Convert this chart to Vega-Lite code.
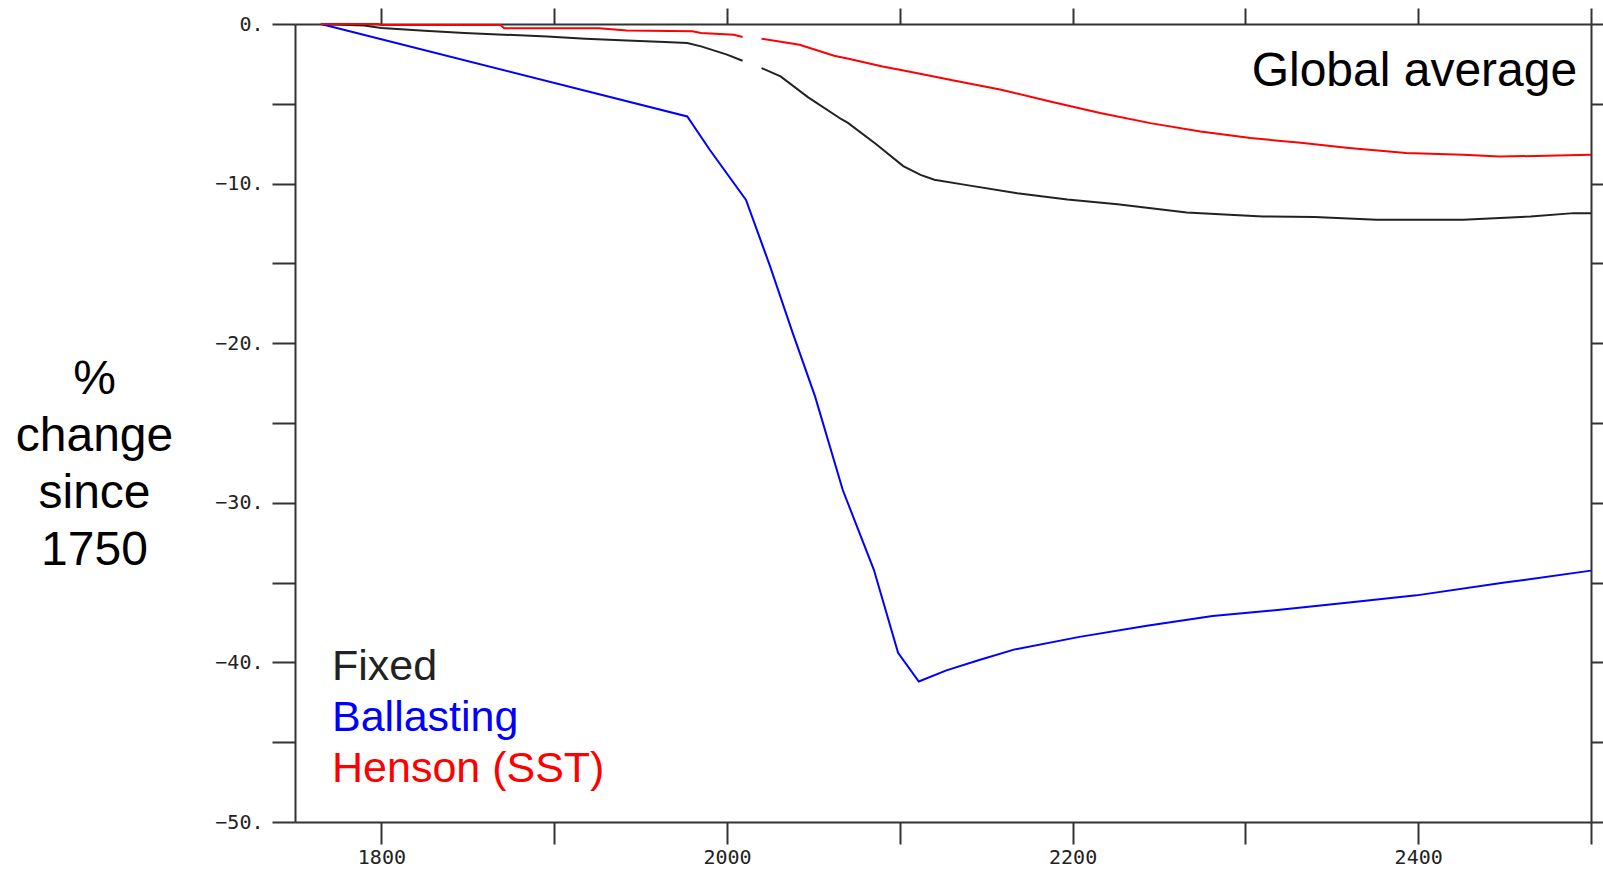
{
  "$schema": "https://vega.github.io/schema/vega-lite/v6.json",
  "width": 1296,
  "height": 798,
  "autosize": {"type": "none"},
  "padding": {"left": 295, "top": 24, "right": 12, "bottom": 48},
  "background": "white",
  "config": {
    "view": {"stroke": null},
    "axis": {"domainColor": "#333333", "domainWidth": 2, "tickColor": "#333333", "tickWidth": 2, "grid": false, "labelColor": "#222222"}
  },
  "layer": [
    {
      "data": {
        "values": [
          {"series": "Fixed", "seg": "a", "year": 1765, "value": 0},
          {"series": "Fixed", "seg": "a", "year": 1790, "value": -0.1},
          {"series": "Fixed", "seg": "a", "year": 1800, "value": -0.25},
          {"series": "Fixed", "seg": "a", "year": 1825, "value": -0.42},
          {"series": "Fixed", "seg": "a", "year": 1848, "value": -0.56},
          {"series": "Fixed", "seg": "a", "year": 1871, "value": -0.67},
          {"series": "Fixed", "seg": "a", "year": 1896, "value": -0.78},
          {"series": "Fixed", "seg": "a", "year": 1918, "value": -0.92},
          {"series": "Fixed", "seg": "a", "year": 1942, "value": -1.04},
          {"series": "Fixed", "seg": "a", "year": 1964, "value": -1.13},
          {"series": "Fixed", "seg": "a", "year": 1977, "value": -1.19},
          {"series": "Fixed", "seg": "a", "year": 1985, "value": -1.4},
          {"series": "Fixed", "seg": "a", "year": 2000, "value": -1.92},
          {"series": "Fixed", "seg": "a", "year": 2009, "value": -2.3},
          {"series": "Fixed", "seg": "b", "year": 2020, "value": -2.76},
          {"series": "Fixed", "seg": "b", "year": 2031, "value": -3.28},
          {"series": "Fixed", "seg": "b", "year": 2047, "value": -4.6},
          {"series": "Fixed", "seg": "b", "year": 2066, "value": -5.95},
          {"series": "Fixed", "seg": "b", "year": 2070, "value": -6.2},
          {"series": "Fixed", "seg": "b", "year": 2086, "value": -7.5},
          {"series": "Fixed", "seg": "b", "year": 2102, "value": -8.9},
          {"series": "Fixed", "seg": "b", "year": 2112, "value": -9.45},
          {"series": "Fixed", "seg": "b", "year": 2120, "value": -9.76},
          {"series": "Fixed", "seg": "b", "year": 2138, "value": -10.08},
          {"series": "Fixed", "seg": "b", "year": 2168, "value": -10.6},
          {"series": "Fixed", "seg": "b", "year": 2197, "value": -11.0},
          {"series": "Fixed", "seg": "b", "year": 2226, "value": -11.29},
          {"series": "Fixed", "seg": "b", "year": 2266, "value": -11.81},
          {"series": "Fixed", "seg": "b", "year": 2310, "value": -12.06},
          {"series": "Fixed", "seg": "b", "year": 2340, "value": -12.1},
          {"series": "Fixed", "seg": "b", "year": 2376, "value": -12.27},
          {"series": "Fixed", "seg": "b", "year": 2426, "value": -12.27},
          {"series": "Fixed", "seg": "b", "year": 2465, "value": -12.06},
          {"series": "Fixed", "seg": "b", "year": 2490, "value": -11.85},
          {"series": "Fixed", "seg": "b", "year": 2500, "value": -11.85},

          {"series": "Ballasting", "seg": "a", "year": 1765, "value": 0},
          {"series": "Ballasting", "seg": "a", "year": 1977, "value": -5.79},
          {"series": "Ballasting", "seg": "a", "year": 1990, "value": -7.88},
          {"series": "Ballasting", "seg": "a", "year": 2011, "value": -11.02},
          {"series": "Ballasting", "seg": "a", "year": 2025, "value": -15.2},
          {"series": "Ballasting", "seg": "a", "year": 2038, "value": -19.35},
          {"series": "Ballasting", "seg": "a", "year": 2051, "value": -23.35},
          {"series": "Ballasting", "seg": "a", "year": 2067, "value": -29.2},
          {"series": "Ballasting", "seg": "a", "year": 2085, "value": -34.2},
          {"series": "Ballasting", "seg": "a", "year": 2099, "value": -39.4},
          {"series": "Ballasting", "seg": "a", "year": 2111, "value": -41.2},
          {"series": "Ballasting", "seg": "a", "year": 2127, "value": -40.5},
          {"series": "Ballasting", "seg": "a", "year": 2146, "value": -39.85},
          {"series": "Ballasting", "seg": "a", "year": 2166, "value": -39.2},
          {"series": "Ballasting", "seg": "a", "year": 2204, "value": -38.4},
          {"series": "Ballasting", "seg": "a", "year": 2243, "value": -37.7},
          {"series": "Ballasting", "seg": "a", "year": 2281, "value": -37.1},
          {"series": "Ballasting", "seg": "a", "year": 2320, "value": -36.7},
          {"series": "Ballasting", "seg": "a", "year": 2360, "value": -36.25},
          {"series": "Ballasting", "seg": "a", "year": 2399, "value": -35.8},
          {"series": "Ballasting", "seg": "a", "year": 2450, "value": -35.0},
          {"series": "Ballasting", "seg": "a", "year": 2500, "value": -34.25},

          {"series": "Henson (SST)", "seg": "a", "year": 1765, "value": 0},
          {"series": "Henson (SST)", "seg": "a", "year": 1798, "value": 0},
          {"series": "Henson (SST)", "seg": "a", "year": 1800, "value": -0.06},
          {"series": "Henson (SST)", "seg": "a", "year": 1869, "value": -0.06},
          {"series": "Henson (SST)", "seg": "a", "year": 1871, "value": -0.27},
          {"series": "Henson (SST)", "seg": "a", "year": 1926, "value": -0.27},
          {"series": "Henson (SST)", "seg": "a", "year": 1942, "value": -0.4},
          {"series": "Henson (SST)", "seg": "a", "year": 1980, "value": -0.46},
          {"series": "Henson (SST)", "seg": "a", "year": 1985, "value": -0.56},
          {"series": "Henson (SST)", "seg": "a", "year": 2004, "value": -0.67},
          {"series": "Henson (SST)", "seg": "a", "year": 2009, "value": -0.82},
          {"series": "Henson (SST)", "seg": "b", "year": 2020, "value": -0.92},
          {"series": "Henson (SST)", "seg": "b", "year": 2042, "value": -1.3},
          {"series": "Henson (SST)", "seg": "b", "year": 2062, "value": -1.99},
          {"series": "Henson (SST)", "seg": "b", "year": 2071, "value": -2.19},
          {"series": "Henson (SST)", "seg": "b", "year": 2090, "value": -2.66},
          {"series": "Henson (SST)", "seg": "b", "year": 2100, "value": -2.87},
          {"series": "Henson (SST)", "seg": "b", "year": 2119, "value": -3.28},
          {"series": "Henson (SST)", "seg": "b", "year": 2129, "value": -3.49},
          {"series": "Henson (SST)", "seg": "b", "year": 2158, "value": -4.1},
          {"series": "Henson (SST)", "seg": "b", "year": 2187, "value": -4.85},
          {"series": "Henson (SST)", "seg": "b", "year": 2216, "value": -5.58},
          {"series": "Henson (SST)", "seg": "b", "year": 2245, "value": -6.21},
          {"series": "Henson (SST)", "seg": "b", "year": 2274, "value": -6.73},
          {"series": "Henson (SST)", "seg": "b", "year": 2303, "value": -7.15},
          {"series": "Henson (SST)", "seg": "b", "year": 2332, "value": -7.44},
          {"series": "Henson (SST)", "seg": "b", "year": 2360, "value": -7.77},
          {"series": "Henson (SST)", "seg": "b", "year": 2393, "value": -8.09},
          {"series": "Henson (SST)", "seg": "b", "year": 2426, "value": -8.19},
          {"series": "Henson (SST)", "seg": "b", "year": 2447, "value": -8.3},
          {"series": "Henson (SST)", "seg": "b", "year": 2474, "value": -8.26},
          {"series": "Henson (SST)", "seg": "b", "year": 2500, "value": -8.19}
        ]
      },
      "mark": {"type": "line", "strokeWidth": 2, "interpolate": "linear"},
      "encoding": {
        "x": {
          "field": "year", "type": "quantitative",
          "scale": {"domain": [1750, 2500], "nice": false, "zero": false},
          "axis": {
            "orient": "bottom", "title": null,
            "values": [1800, 1900, 2000, 2100, 2200, 2300, 2400, 2500],
            "tickSize": 22, "labelPadding": 3,
            "labelExpr": "datum.value % 200 == 0 ? datum.value : ''",
            "labelFont": "DejaVu Sans Mono", "labelFontSize": 20,
            "labelOverlap": false, "labelFlush": false, "labelBaseline": "top"
          }
        },
        "y": {
          "field": "value", "type": "quantitative",
          "scale": {"domain": [-50, 0], "nice": false, "zero": false},
          "axis": {
            "orient": "left",
            "title": ["%", "change", "since", "1750"],
            "titleAngle": 0, "titleAlign": "center", "titleBaseline": "alphabetic",
            "titleX": -201, "titleY": 369,
            "titleFont": "Liberation Sans", "titleFontSize": 48, "titleFontWeight": "normal",
            "titleColor": "#000000", "titleLineHeight": 57,
            "values": [-50, -45, -40, -35, -30, -25, -20, -15, -10, -5, 0],
            "tickSize": 23, "labelPadding": 9,
            "labelExpr": "datum.value % 10 == 0 ? (datum.value < 0 ? '\u2212' + abs(datum.value) + '.' : '0.') : ''",
            "labelFont": "DejaVu Sans Mono", "labelFontSize": 20,
            "labelOverlap": false, "labelFlush": false
          }
        },
        "color": {
          "field": "series", "type": "nominal",
          "scale": {"domain": ["Fixed", "Ballasting", "Henson (SST)"], "range": ["#222222", "#0000ff", "#ff0000"]},
          "legend": {
            "orient": "none", "legendX": -6, "legendY": 621,
            "title": null, "padding": 0,
            "symbolSize": 0, "symbolStrokeWidth": 0, "symbolOpacity": 0,
            "labelOffset": 0, "labelFontSize": 43, "labelFont": "Liberation Sans",
            "rowPadding": 7, "labelLimit": 600,
            "encode": {"labels": {"update": {"fill": {"scale": "color", "field": "value"}}}}
          }
        },
        "detail": {"field": "seg", "type": "nominal"}
      }
    },
    {
      "data": {"values": [{"label": "Global average"}]},
      "mark": {"type": "text", "align": "right", "baseline": "alphabetic", "fontSize": 48, "font": "Liberation Sans", "color": "#000000"},
      "encoding": {
        "text": {"field": "label"},
        "x": {
          "datum": 2492, "type": "quantitative",
          "axis": {"orient": "top", "title": null, "labels": false, "tickSize": 16,
                   "values": [1800, 1900, 2000, 2100, 2200, 2300, 2400, 2500]}
        },
        "y": {
          "datum": -3.87, "type": "quantitative",
          "axis": {"orient": "right", "title": null, "labels": false, "tickSize": 22,
                   "values": [-50, -45, -40, -35, -30, -25, -20, -15, -10, -5, 0]}
        }
      }
    }
  ],
  "resolve": {"axis": {"x": "independent", "y": "independent"}}
}
